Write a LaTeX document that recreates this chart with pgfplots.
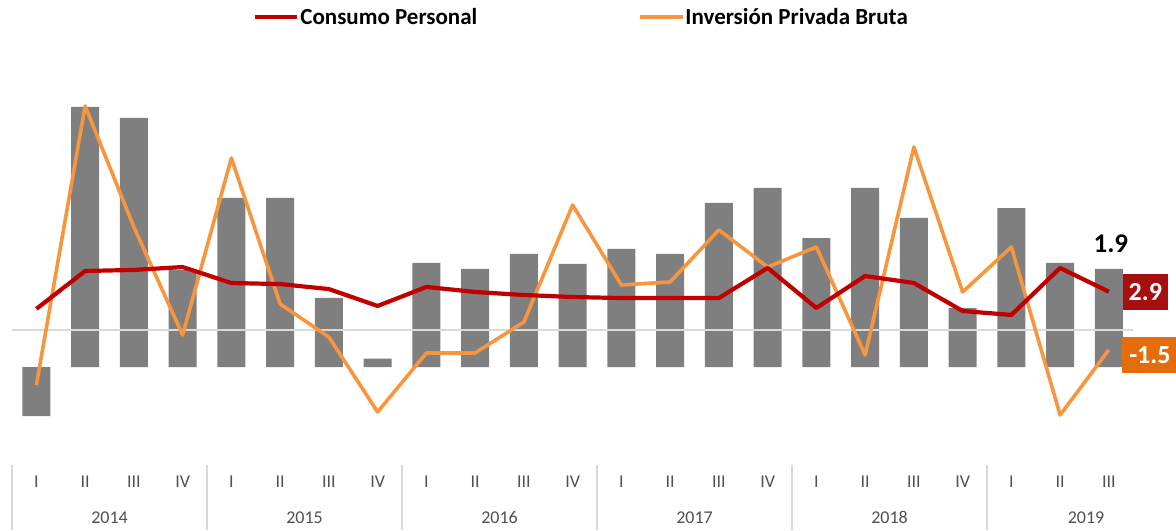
\documentclass[border=0pt]{standalone}
\usepackage{fontspec}
\setmainfont{Carlito}
\usepackage{pgfplots}
\usepackage{pgfplotstable}
\pgfplotsset{compat=1.18}
\definecolor{barg}{HTML}{7F7F7F}
\definecolor{cred}{HTML}{C00000}
\definecolor{corange}{HTML}{F7963F}
\definecolor{boxred}{HTML}{A50F0F}
\definecolor{boxorange}{HTML}{E46C0A}
\definecolor{sepg}{HTML}{D9D9D9}
\definecolor{tickg}{HTML}{505050}

\pgfplotstableread{
x pib cons inv
0 -0.95 1.60 -4.17
1 5.04 4.47 16.97
2 4.83 4.55 7.80
3 1.88 4.77 -0.38
4 3.28 3.56 13.03
5 3.28 3.48 1.97
6 1.34 3.10 -0.53
7 0.16 1.82 -6.21
8 2.02 3.26 -1.74
9 1.90 2.88 -1.74
10 2.19 2.65 0.60
11 2.00 2.50 9.47
12 2.29 2.42 3.41
13 2.19 2.42 3.64
14 3.18 2.42 7.58
15 3.47 4.70 4.77
16 2.50 1.67 6.29
17 3.47 4.09 -1.89
18 2.89 3.56 13.86
19 1.14 1.44 2.88
20 3.08 1.14 6.29
21 2.02 4.70 -6.44
22 1.90 2.90 -1.50
}\datatab

\begin{document}
\begin{tikzpicture}
\useasboundingbox (0,0) rectangle (588pt,265pt);

% bars (own scale)
\begin{axis}[
  at={(6pt,45pt)}, anchor=south west,
  scale only axis, width=582pt, height=190pt,
  xmin=-0.5, xmax=23.377,
  ymin=-1.4147, ymax=5.9496,
  hide y axis,
  axis x line*=bottom,
  x axis line style={draw=none},
  xtick={0,...,22},
  xticklabels={I,II,III,IV,I,II,III,IV,I,II,III,IV,I,II,III,IV,I,II,III,IV,I,II,III},
  major tick length=0pt,
  xticklabel style={anchor=base, yshift=-23.65pt, text=tickg, font=\fontsize{9}{10}\selectfont},
  clip=false,
]
\addplot[ybar, bar width=14pt, bar shift=0pt, fill=barg, draw=none] table[x=x, y=pib] {\datatab};
\node[font=\bfseries\fontsize{13.5}{15}\selectfont, text=black, xshift=1pt, yshift=12.75pt] at (axis cs:22,1.9) {1.9};
\end{axis}

% lines (own scale)
\begin{axis}[
  at={(6pt,45pt)}, anchor=south west,
  scale only axis, width=582pt, height=190pt,
  xmin=-0.5, xmax=23.377,
  ymin=-8.3333, ymax=20.4545,
  hide axis,
  clip=false,
]
\addplot[sepg, line width=0.9pt, forget plot] coordinates {(-0.5,0) (22.5,0)};
\addplot[corange, line width=1.8pt, line join=round] table[x=x, y=inv] {\datatab};
\addplot[cred, line width=2.1pt, line join=round] table[x=x, y=cons] {\datatab};
\node[fill=boxred, text=white, font=\bfseries\fontsize{13}{14}\selectfont, minimum width=22.5pt, minimum height=18pt, inner sep=0pt, xshift=18.25pt] at (axis cs:22,2.9) {2.9};
\node[fill=boxorange, text=white, font=\bfseries\fontsize{13}{14}\selectfont, minimum width=27.5pt, minimum height=18pt, inner sep=0pt, xshift=20.5pt, yshift=-2.6pt] at (axis cs:22,-1.5) {-1.5};
\end{axis}

% legend
\draw[cred, line width=2pt] (127.5pt,256.25pt) -- (148.5pt,256.25pt);
\node[anchor=base west, inner sep=0pt, font=\bfseries\fontsize{11.5}{13}\selectfont] at (150pt,252.5pt) {Consumo Personal};
\draw[corange, line width=2pt] (320pt,256.25pt) -- (341.5pt,256.25pt);
\node[anchor=base west, inner sep=0pt, font=\bfseries\fontsize{11.5}{13}\selectfont] at (342.5pt,252.5pt) {Inversión Privada Bruta};

% category separators and years
\foreach \sx in {6,103.5,201,298.5,396,493.5}
  \draw[sepg, line width=0.6pt] (\sx pt,32.5pt) -- (\sx pt,0pt);
\foreach \yx/\yl in {54.75/2014,152.25/2015,249.75/2016,347.25/2017,444.75/2018,543/2019}
  \node[anchor=base, inner sep=0pt, text=tickg, font=\fontsize{9}{10}\selectfont] at (\yx pt,3.5pt) {\yl};
\end{tikzpicture}
\end{document}
